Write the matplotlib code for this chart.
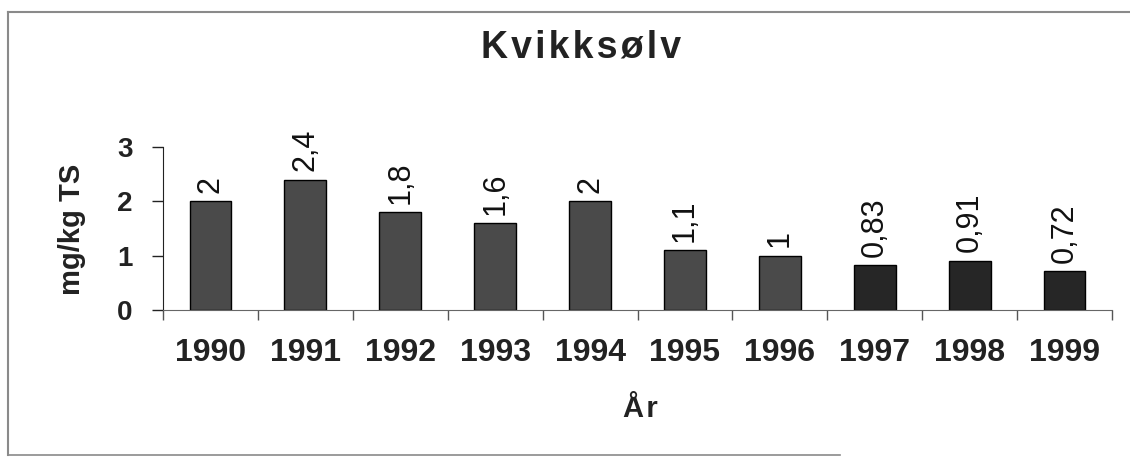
import matplotlib
matplotlib.use("Agg")
import matplotlib.pyplot as plt
from matplotlib.lines import Line2D

# data
years = ["1990", "1991", "1992", "1993", "1994", "1995", "1996", "1997", "1998", "1999"]
mercury = [2.0, 2.4, 1.8, 1.6, 2.0, 1.1, 1.0, 0.83, 0.91, 0.72]
y_ticks = [0, 1, 2, 3]

plt.rcParams['font.family'] = ['Liberation Sans', 'DejaVu Sans']

W, H = 1130, 462
fig = plt.figure(figsize=(W / 100, H / 100), dpi=100)
fig.patch.set_facecolor('white')

# axes placed in pixel terms
ax = fig.add_axes([163 / W, 1 - 310 / H, 949 / W, 163 / H])

x = list(range(len(years)))
colors = ['#4a4a4a' if int(y) < 1997 else '#262626' for y in years]
ax.bar(x, mercury, width=0.44, color=colors, edgecolor='black', linewidth=1.0, zorder=2)

# value labels, rotated, with decimal comma
for xi, v in zip(x, mercury):
    label = f"{v:g}".replace('.', ',')
    ax.annotate(label, (xi, v), xytext=(0, 6), textcoords='offset points',
                rotation=90, ha='center', va='bottom', fontsize=22, color='#111111')

ax.set_xlim(-0.5, len(years) - 0.5)
ax.set_ylim(0, 3)
ax.set_yticks(y_ticks)
ax.set_yticklabels([str(t) for t in y_ticks], fontsize=20, fontweight='bold', color='#222222')
ax.tick_params(axis='y', direction='out', length=8, width=1, pad=14, color='#222222')

# year labels at centres, tick marks at category boundaries
ax.set_xticks(x)
ax.set_xticklabels(years, fontsize=23, fontweight='bold', color='#222222')
ax.tick_params(axis='x', which='major', length=0, pad=20)
ax.set_xticks([i - 0.5 for i in range(len(years) + 1)], minor=True)
ax.tick_params(axis='x', which='minor', direction='out', length=7, width=1, color='#555555')

for side in ['top', 'right']:
    ax.spines[side].set_visible(False)
ax.spines['left'].set_color('#222222')
ax.spines['bottom'].set_color('#666666')
ax.set_facecolor('white')

# title, axis labels (letter spaced like the original)
fig.text(581 / W, 1 - 58 / H, '\u200a'.join("Kvikksølv"), ha='center', va='baseline',
         fontsize=27, fontweight='bold', color='#222222')
fig.text(640 / W, 1 - 417 / H, "Å\u200ar", ha='center', va='baseline',
         fontsize=21, fontweight='bold', color='#222222')
fig.text(72 / W, 1 - 229 / H, "mg/kg TS", ha='center', va='center', rotation=90,
         fontsize=21, fontweight='bold', color='#222222')

# outer frame (partial, as in the scan)
frame_color = '#8a8a8a'
fig.add_artist(Line2D([8 / W, 1.0], [1 - 12 / H, 1 - 12 / H], color=frame_color, lw=1.5))
fig.add_artist(Line2D([8 / W, 8 / W], [1 - 12 / H, 1 - 455 / H], color=frame_color, lw=1.5))
fig.add_artist(Line2D([8 / W, 840 / W], [1 - 455 / H, 1 - 455 / H], color=frame_color, lw=1.2))

fig.savefig('out.png', dpi=100)
